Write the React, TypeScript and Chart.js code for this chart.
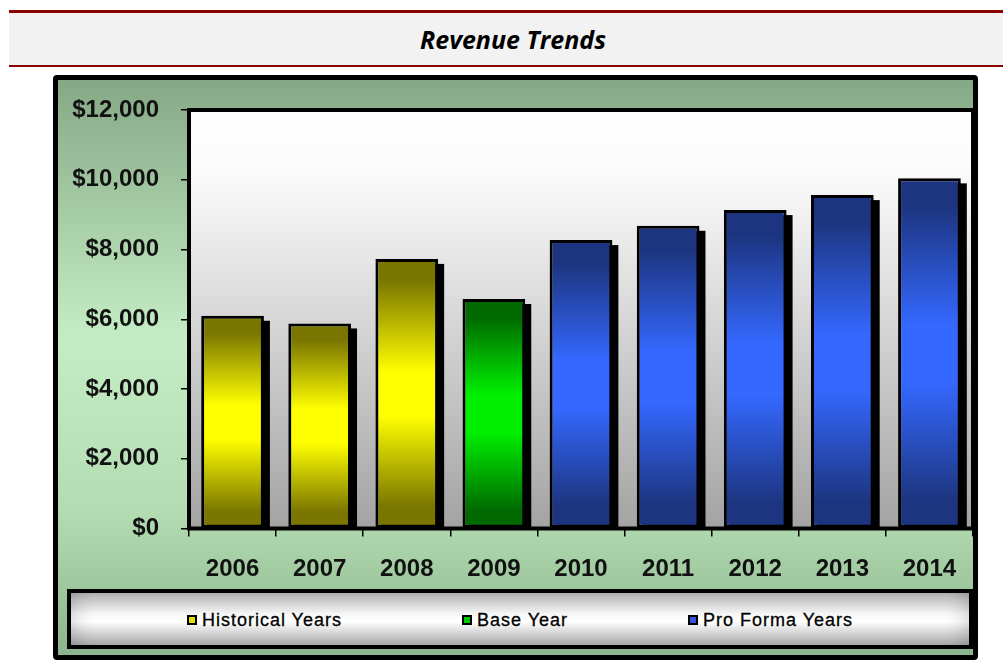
import React, { useEffect, useRef } from "react";
import { Chart, registerables } from "chart.js";

Chart.register(...registerables);

// ---- data ----
const years = ["2006", "2007", "2008", "2009", "2010", "2011", "2012", "2013", "2014"];
const revenue = [6100, 5880, 7730, 6580, 8270, 8680, 9130, 9560, 10040];
const yearGroup = [
  "Historical Years",
  "Historical Years",
  "Historical Years",
  "Base Year",
  "Pro Forma Years",
  "Pro Forma Years",
  "Pro Forma Years",
  "Pro Forma Years",
  "Pro Forma Years",
];
const legendLabels = ["Historical Years", "Base Year", "Pro Forma Years"];
const yTickValues = [0, 2000, 4000, 6000, 8000, 10000, 12000];
const chartTitle = "Revenue Trends";

// ---- styles ----
const groupDark: Record<string, string> = {
  "Historical Years": "#7a7600",
  "Base Year": "#006a00",
  "Pro Forma Years": "#1d3580",
};
const groupBright: Record<string, string> = {
  "Historical Years": "#ffff00",
  "Base Year": "#00f000",
  "Pro Forma Years": "#3468ff",
};
const groupSwatch: Record<string, string> = {
  "Historical Years": "#e0e000",
  "Base Year": "#00c800",
  "Pro Forma Years": "#3355dd",
};

const FONT = "'Liberation Sans', Arial, sans-serif";

const decorPlugin = {
  id: "decor",
  beforeDraw(chart: any) {
    const { ctx, chartArea: a } = chart;
    if (!a) return;
    ctx.save();
    const g = ctx.createLinearGradient(0, a.top, 0, a.bottom);
    g.addColorStop(0, "#ffffff");
    g.addColorStop(0.15, "#fbfbfb");
    g.addColorStop(1, "#a3a3a3");
    ctx.fillStyle = g;
    ctx.fillRect(a.left, a.top, a.right - a.left, a.bottom - a.top);
    ctx.restore();
  },
  beforeDatasetsDraw(chart: any) {
    const { ctx, chartArea: a } = chart;
    ctx.save();
    ctx.beginPath();
    ctx.rect(a.left, a.top, a.right - a.left, a.bottom - a.top);
    ctx.clip();
    ctx.fillStyle = "#000";
    const meta = chart.getDatasetMeta(0);
    meta.data.forEach((el: any) => {
      const w = el.width;
      ctx.fillRect(el.x - w / 2 + 6, el.y + 5, w, el.base - el.y);
    });
    ctx.restore();
  },
  afterDatasetsDraw(chart: any) {
    const { ctx, chartArea: a } = chart;
    ctx.save();
    ctx.strokeStyle = "#000";
    ctx.lineWidth = 4;
    ctx.strokeRect(a.left, a.top, a.right - a.left, a.bottom - a.top);
    ctx.restore();
  },
};

function barFill(c: any) {
  const chart = c.chart;
  const grp = yearGroup[c.dataIndex] || "Pro Forma Years";
  const y = chart.scales?.y;
  if (!chart.chartArea || !y || c.raw == null) return groupBright[grp];
  const top = y.getPixelForValue(c.raw);
  const base = y.getPixelForValue(0);
  const g = chart.ctx.createLinearGradient(0, top, 0, base);
  g.addColorStop(0, groupDark[grp]);
  g.addColorStop(0.08, groupDark[grp]);
  g.addColorStop(0.42, groupBright[grp]);
  g.addColorStop(0.58, groupBright[grp]);
  g.addColorStop(0.92, groupDark[grp]);
  g.addColorStop(1, groupDark[grp]);
  return g;
}

export default function App() {
  const ref = useRef<HTMLCanvasElement | null>(null);

  useEffect(() => {
    if (!ref.current) return;
    const chart = new Chart(ref.current, {
      type: "bar",
      data: {
        labels: years,
        datasets: [
          {
            label: "Revenue",
            data: revenue,
            backgroundColor: barFill as any,
            borderColor: "#000",
            borderWidth: 3,
            borderSkipped: false,
            barPercentage: 0.72,
            categoryPercentage: 1,
          },
        ],
      },
      options: {
        animation: false,
        responsive: false,
        maintainAspectRatio: false,
        devicePixelRatio: 1,
        layout: { padding: { left: 0, right: 0, top: 30, bottom: 66.5 } },
        plugins: { legend: { display: false }, tooltip: { enabled: false }, title: { display: false } },
        scales: {
          x: {
            grid: {
              display: true,
              drawOnChartArea: false,
              drawTicks: true,
              tickLength: 8,
              color: "#000",
              lineWidth: 1.5,
              offset: true,
            },
            border: { display: false },
            ticks: {
              color: "#111",
              font: { family: FONT, size: 24, weight: "bold" },
              padding: 18,
              maxRotation: 0,
            },
            afterFit: (s: any) => {
              s.height = 60;
              s.paddingLeft = 0;
              s.paddingRight = 0;
              s.paddingTop = 0;
              s.paddingBottom = 0;
            },
          },
          y: {
            min: 0,
            max: 12000,
            afterBuildTicks: (s: any) => {
              s.ticks = yTickValues.map((v) => ({ value: v }));
            },
            grid: {
              display: true,
              drawOnChartArea: false,
              drawTicks: true,
              tickLength: 8,
              color: "#000",
              lineWidth: 1.5,
            },
            border: { display: false },
            ticks: {
              color: "#111",
              font: { family: FONT, size: 24, weight: "bold" },
              padding: 22,
              callback: (v: any) => "$" + Number(v).toLocaleString("en-US"),
            },
            afterFit: (s: any) => {
              s.width = 131;
              s.paddingTop = 0;
              s.paddingBottom = 0;
              s.paddingLeft = 0;
              s.paddingRight = 0;
            },
          },
        },
      } as any,
      plugins: [decorPlugin],
    });
    return () => chart.destroy();
  }, []);

  return (
    <div style={{ position: "absolute", left: 0, top: 0, width: 1003, height: 671, background: "#fff", overflow: "hidden" }}>
      <div style={{ position: "absolute", left: 9, top: 10, width: 994, height: 3, background: "#8b0000" }} />
      <div
        style={{
          position: "absolute",
          left: 9,
          top: 13,
          width: 994,
          height: 52,
          background: "#f2f2f2",
          display: "flex",
          alignItems: "center",
          justifyContent: "center",
          paddingLeft: 14,
          boxSizing: "border-box",
          fontFamily: "'Open Sans', sans-serif",
          fontStyle: "italic",
          fontWeight: "bold",
          fontSize: 25,
          color: "#000",
        }}
      >
        {chartTitle}
      </div>
      <div style={{ position: "absolute", left: 9, top: 65, width: 994, height: 2, background: "#8b0000" }} />
      <div
        style={{
          position: "absolute",
          left: 53,
          top: 75,
          width: 925,
          height: 585,
          boxSizing: "border-box",
          border: "5px solid #000",
          borderRadius: 4,
          background: "linear-gradient(to bottom, #85a985 0%, #c5edc5 45%, #b4dcb2 75%, #8db58d 100%)",
        }}
      >
        <canvas ref={ref} width={915} height={575} style={{ position: "absolute", left: 0, top: 0, width: 915, height: 575 }} />
        <div
          style={{
            position: "absolute",
            left: 9,
            top: 509,
            width: 906,
            height: 60,
            boxSizing: "border-box",
            border: "4px solid #000",
            background: "linear-gradient(to bottom, #b0b0b0 0%, #f6f6f6 40%, #ffffff 55%, #a8a8a8 100%)",
            boxShadow: "inset 20px 0 18px -14px rgba(0,0,0,0.15), inset -20px 0 18px -14px rgba(0,0,0,0.15)",
            display: "flex",
            alignItems: "center",
            justifyContent: "center",
            gap: 120,
            paddingTop: 2,
            fontFamily: FONT,
            fontSize: 18,
            letterSpacing: 1,
            color: "#000",
            WebkitTextStroke: "0.3px #000",
          }}
        >
          {legendLabels.map((l) => (
            <div key={l} style={{ display: "flex", alignItems: "center" }}>
              <span
                style={{
                  display: "inline-block",
                  width: 10,
                  height: 10,
                  boxSizing: "border-box",
                  border: "2px solid #000",
                  background: groupSwatch[l],
                  marginRight: 5,
                }}
              />
              <span>{l}</span>
            </div>
          ))}
        </div>
      </div>
    </div>
  );
}
